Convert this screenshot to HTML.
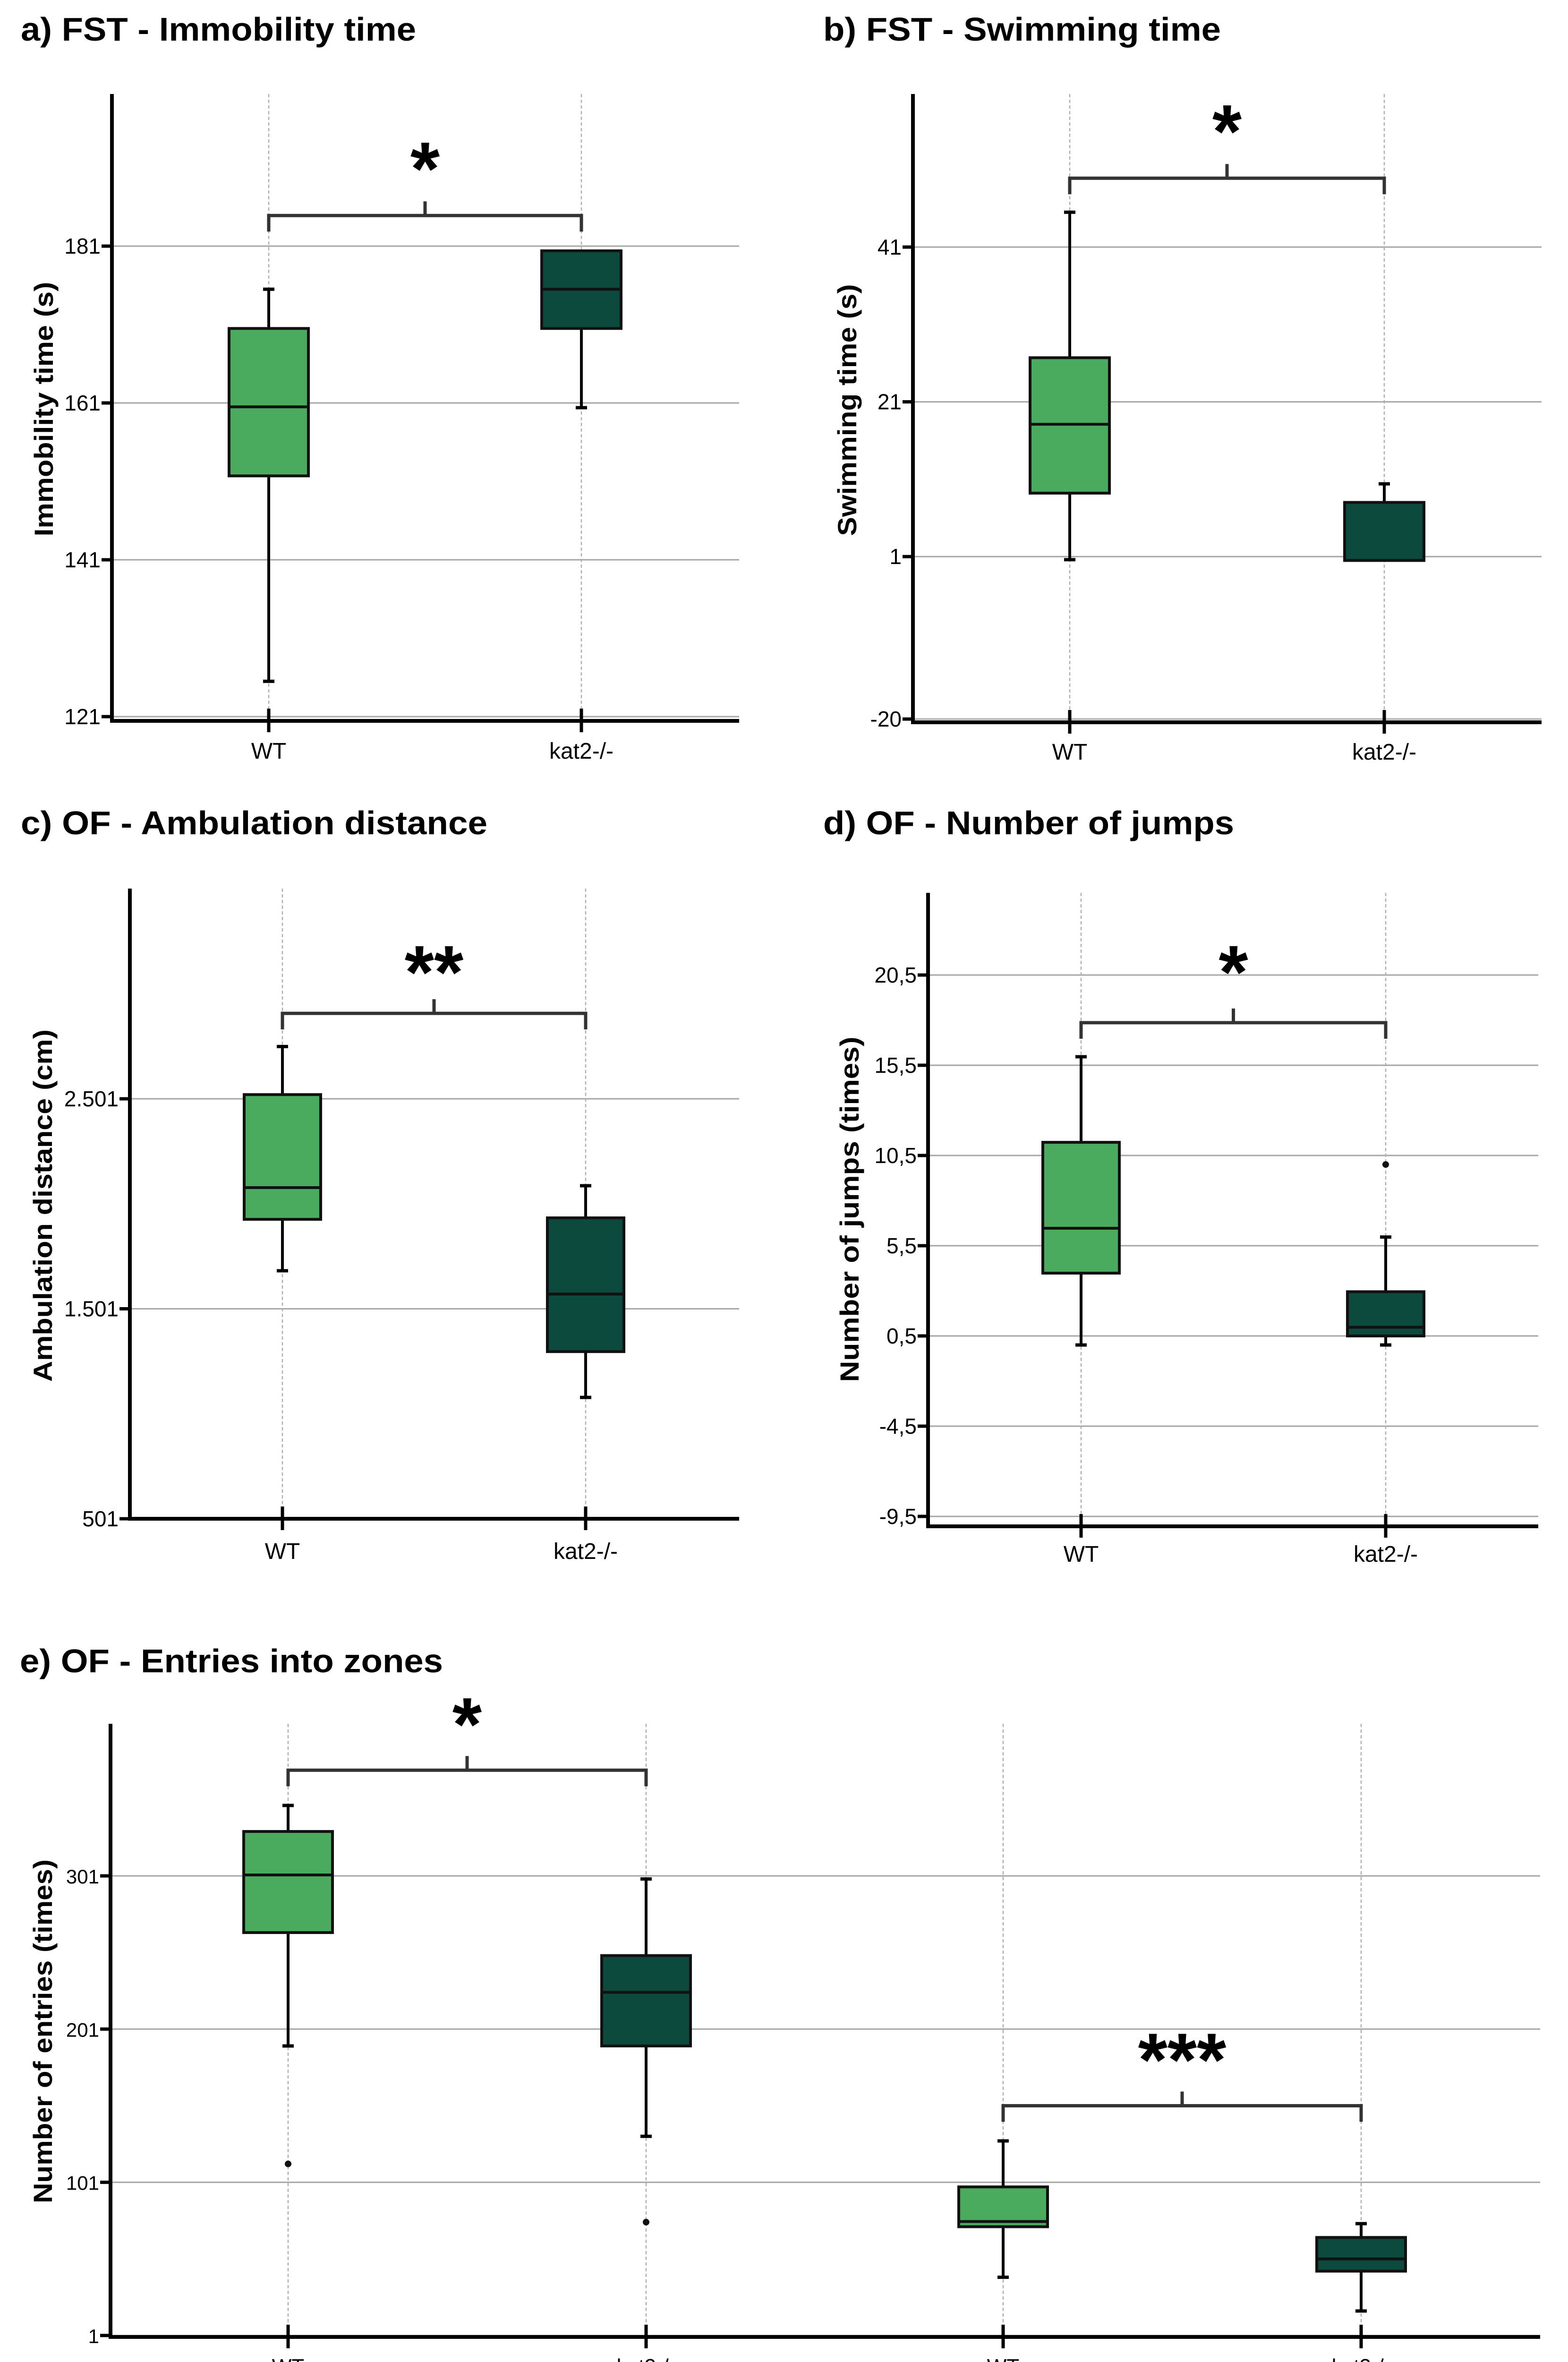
<!DOCTYPE html>
<html><head><meta charset="utf-8"><style>
html,body{margin:0;padding:0;background:#fff;width:3320px;height:5117px;overflow:hidden;}
svg{display:block;font-family:"Liberation Sans",Arial,sans-serif;}
</style></head><body>
<svg id="fig" width="3320" height="5117" viewBox="0 0 3320 5117" xmlns="http://www.w3.org/2000/svg"></svg>
<script>
// ---------- data ----------
const aCategories = ["WT","kat2-/-"];
const aTicks = [121,141,161,181];
const aLow = [125.5,160.4];
const aQ1 = [151.7,170.5];
const aMedian = [160.5,175.5];
const aQ3 = [170.5,180.4];
const aHigh = [175.5,180.4];
const aOutliers = [[],[]];
const aSig = [{from:0,to:1,value:184.9,label:"*"}];

const bCategories = ["WT","kat2-/-"];
const bTicks = [-20,1,21,41];
const bLow = [0.6,0.5];
const bQ1 = [9.2,0.5];
const bMedian = [18.1,0.5];
const bQ3 = [26.7,8.0];
const bHigh = [45.5,10.4];
const bOutliers = [[],[]];
const bSig = [{from:0,to:1,value:49.9,label:"*"}];

const cCategories = ["WT","kat2-/-"];
const cTicks = [501,1501,2501];
const cTickLabels = ["501","1.501","2.501"];
const cLow = [1682,1079];
const cQ1 = [1927,1297];
const cMedian = [2078,1571];
const cQ3 = [2521,1934];
const cHigh = [2750,2087];
const cOutliers = [[],[]];
const cSig = [{from:0,to:1,value:2908,label:"**"}];

const dCategories = ["WT","kat2-/-"];
const dTicks = [-9.5,-4.5,0.5,5.5,10.5,15.5,20.5];
const dTickLabels = ["-9,5","-4,5","0,5","5,5","10,5","15,5","20,5"];
const dLow = [0.0,0.0];
const dQ1 = [3.98,0.5];
const dMedian = [6.47,0.98];
const dQ3 = [11.23,2.95];
const dHigh = [15.97,5.98];
const dOutliers = [[],[10.0]];
const dSig = [{from:0,to:1,value:17.86,label:"*"}];

const eCategories = ["WT","kat2-/-","WT","kat2-/-"];
const eGroups = ["Center","Corners"];
const eTicks = [1,101,201,301];
const eLow = [190,131,39,17];
const eQ1 = [264,190,72,43];
const eMedian = [301.6,225,75.4,51];
const eQ3 = [330,249,98,65];
const eHigh = [347,299,128,74];
const eOutliers = [[113],[75],[],[]];
const eSig = [{from:0,to:1,value:370,label:"*"},{from:2,to:3,value:151,label:"***"}];

const fills = ["#4aab5e","#0b4a3c","#4aab5e","#0b4a3c"];
const NS="http://www.w3.org/2000/svg";
const svg=document.getElementById('fig');
function mk(tag,attrs,parent){const e=document.createElementNS(NS,tag);for(const k in attrs)e.setAttribute(k,attrs[k]);(parent||svg).appendChild(e);return e;}

function panel(c){
  const g=mk('g',{});
  
  
  const y=v=>c.y0+(c.v0-v)*c.k;
  const x=i=>c.xs[i];
  const t=mk('text',{x:c.tx,y:c.ty,'font-size':70,'font-weight':'bold',textLength:c.tw,lengthAdjust:'spacingAndGlyphs'},g);
  t.textContent=c.title;
  
  
  c.ticks.forEach((v,i)=>{
    const gl=mk('line',{x1:c.ax,x2:c.right,y1:y(v),y2:y(v),stroke:'#a6a6a6','stroke-width':3},g);
    
    
    mk('line',{x1:c.ax-22,x2:c.ax+4,y1:y(v),y2:y(v),stroke:'#000','stroke-width':7},g);
    const tl=mk('text',{x:c.ax-24,y:y(v)+16,'font-size':c.tfs||46,'text-anchor':'end'},g);
    tl.textContent=c.tickLabels?c.tickLabels[i]:String(v);
    
    
  });
  c.cats.forEach((cat,i)=>{
    mk('line',{x1:x(i),x2:x(i),y1:c.top,y2:c.xaxis,stroke:'#b0b0b0','stroke-width':2.5,'stroke-dasharray':'7,5'},g);
  });
  const ya=mk('line',{x1:c.ax,x2:c.ax,y1:c.top,y2:c.xaxis+4,stroke:'#000','stroke-width':8},g);
  
  
  const xa=mk('line',{x1:c.ax-4,x2:c.right,y1:c.xaxis,y2:c.xaxis,stroke:'#000','stroke-width':8},g);
  
  
  c.cats.forEach((cat,i)=>{
    mk('line',{x1:x(i),x2:x(i),y1:c.xaxis-26,y2:c.xaxis+24,stroke:'#000','stroke-width':7},g);
    const xl=mk('text',{x:x(i),y:c.xly,'font-size':c.xfs||48,'text-anchor':'middle'},g);
    xl.textContent=cat;
    
    
  });
  const yt=mk('text',{x:c.ytx,y:c.yty,'font-size':56,'font-weight':'bold','text-anchor':'middle',transform:`rotate(-90 ${c.ytx} ${c.yty})`,textLength:c.ytl,lengthAdjust:'spacingAndGlyphs','dominant-baseline':'middle'},g);
  yt.textContent=c.ytitle;
  
  
  c.cats.forEach((cat,i)=>{
    const bx=mk('g',{},g);
    
    
    const cx=x(i),hw=c.hw;
    if(c.high[i]>c.q3[i]){mk('line',{x1:cx,x2:cx,y1:y(c.high[i]),y2:y(c.q3[i]),stroke:'#000','stroke-width':6},bx);
      mk('line',{x1:cx-12,x2:cx+12,y1:y(c.high[i]),y2:y(c.high[i]),stroke:'#000','stroke-width':7},bx);}
    if(c.low[i]<c.q1[i]){mk('line',{x1:cx,x2:cx,y1:y(c.q1[i]),y2:y(c.low[i]),stroke:'#000','stroke-width':6},bx);
      mk('line',{x1:cx-12,x2:cx+12,y1:y(c.low[i]),y2:y(c.low[i]),stroke:'#000','stroke-width':7},bx);}
    mk('rect',{x:cx-hw,y:y(c.q3[i]),width:2*hw,height:Math.max(1,y(c.q1[i])-y(c.q3[i])),fill:fills[i],stroke:'#111','stroke-width':6},bx);
    mk('line',{x1:cx-hw,x2:cx+hw,y1:y(c.med[i]),y2:y(c.med[i]),stroke:'#111','stroke-width':6},bx);
    c.out[i].forEach(o=>{mk('circle',{cx:cx,cy:y(o),r:7,fill:'#111'},bx);});
  });
  c.sig.forEach(s=>{
    const sg=mk('g',{},g);
    
    
    const by=y(s.value),x1=x(s.from),x2=x(s.to),mx=(x1+x2)/2;
    mk('path',{d:`M${x1},${by+34} V${by} H${x2} V${by+34} M${mx},${by} V${by-30}`,fill:'none',stroke:'#333','stroke-width':7},sg);
    const st=mk('text',{x:mx,y:by-c.starOff+88,'font-size':160,'font-weight':'bold','text-anchor':'middle'},sg);
    st.textContent=s.label;
  });
  if(c.groups){c.groups.forEach((gname,j)=>{
    const gl=mk('text',{x:(x(2*j)+x(2*j+1))/2,y:5085,'font-size':54,'font-weight':'bold','text-anchor':'middle'},g);
    gl.textContent=gname;
    
    
  });}
}

panel({id:'a',title:'a) FST - Immobility time',tx:44,ty:86,tw:837,ax:237,top:199,xaxis:1526,right:1565,
 v0:181,y0:521,k:16.6,xs:[569,1231],hw:84,ticks:aTicks,cats:aCategories,xly:1606,
 ytitle:'Immobility time (s)',ytx:97,yty:866,ytl:539,
 low:aLow,q1:aQ1,med:aMedian,q3:aQ3,high:aHigh,out:aOutliers,sig:aSig,starOff:132});
panel({id:'b',title:'b) FST - Swimming time',tx:1743,ty:86,tw:842,ax:1933,top:199,xaxis:1529,right:3264,
 v0:41,y0:523,k:16.38,xs:[2265,2931],hw:84,ticks:bTicks,cats:bCategories,xly:1608,
 ytitle:'Swimming time (s)',ytx:1798,yty:868,ytl:533,
 low:bLow,q1:bQ1,med:bMedian,q3:bQ3,high:bHigh,out:bOutliers,sig:bSig,starOff:132});
panel({id:'c',title:'c) OF - Ambulation distance',tx:44,ty:1766,tw:988,ax:275,top:1881,xaxis:3215,right:1565,
 v0:2501,y0:2326,k:0.4445,xs:[598,1240],hw:81,ticks:cTicks,tickLabels:cTickLabels,cats:cCategories,xly:3300,
 ytitle:'Ambulation distance (cm)',ytx:95,yty:2552,ytl:746,
 low:cLow,q1:cQ1,med:cMedian,q3:cQ3,high:cHigh,out:cOutliers,sig:cSig,starOff:120});
panel({id:'d',title:'d) OF - Number of jumps',tx:1743,ty:1766,tw:870,ax:1965,top:1890,xaxis:3231,right:3257,
 v0:20.5,y0:2064,k:38.2,xs:[2289,2934],hw:81,ticks:dTicks,tickLabels:dTickLabels,cats:dCategories,xly:3306,
 ytitle:'Number of jumps (times)',ytx:1803,yty:2560,ytl:731,
 low:dLow,q1:dQ1,med:dMedian,q3:dQ3,high:dHigh,out:dOutliers,sig:dSig,starOff:140});
panel({id:'e',title:'e) OF - Entries into zones',tx:42,ty:3540,tw:896,ax:234,top:3649,xaxis:4947,right:3261,
 v0:301,y0:3971,k:3.243,xs:[610,1368,2124,2882],hw:94,ticks:eTicks,cats:eCategories,xly:5024,tfs:42,xfs:44,
 ytitle:'Number of entries (times)',ytx:95,yty:4300,ytl:728,
 low:eLow,q1:eQ1,med:eMedian,q3:eQ3,high:eHigh,out:eOutliers,sig:eSig,starOff:130,groups:eGroups});
</script>
</body></html>
